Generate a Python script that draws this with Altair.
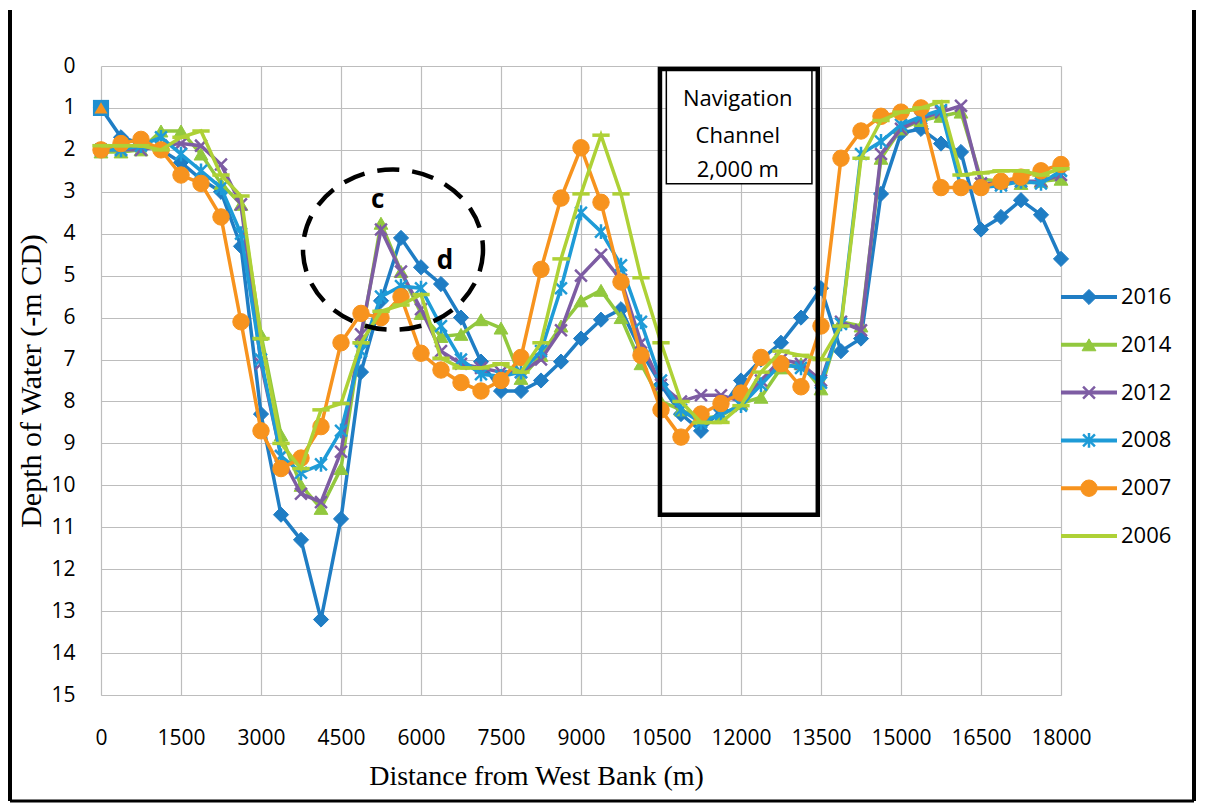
import altair as alt
import pandas as pd

# ---------------- data ----------------
distance = [0, 375, 750, 1125, 1500, 1875, 2250, 2625, 3000, 3375, 3750, 4125,
            4500, 4875, 5250, 5625, 6000, 6375, 6750, 7125, 7500, 7875, 8250,
            8625, 9000, 9375, 9750, 10125, 10500, 10875, 11250, 11625, 12000,
            12375, 12750, 13125, 13500, 13875, 14250, 14625, 15000, 15375,
            15750, 16125, 16500, 16875, 17250, 17625, 18000]

d2016 = [1.0, 1.7, 1.85, 2.0, 2.3, 2.7, 3.0, 4.3, 8.3, 10.7, 11.3, 13.2, 10.8,
         7.3, 5.6, 4.1, 4.8, 5.2, 6.0, 7.05, 7.75, 7.75, 7.5, 7.05, 6.5, 6.05,
         5.8, 6.8, 7.6, 8.3, 8.7, 8.2, 7.5, 7.0, 6.6, 6.0, 5.3, 6.8, 6.5, 3.05,
         1.6, 1.5, 1.85, 2.05, 3.9, 3.6, 3.2, 3.55, 4.6]
d2014 = [2.05, 2.05, 2.0, 1.55, 1.55, 2.1, 2.8, 3.3, 6.4, 8.8, 10.0, 10.55, 9.6,
         6.5, 3.75, 4.9, 5.9, 6.45, 6.4, 6.05, 6.25, 7.45, 6.9, 6.2, 5.6, 5.35,
         6.0, 7.1, 8.0, 8.2, 8.4, 8.35, 8.05, 7.9, 7.2, 7.1, 7.7, 6.1, 6.2, 2.2,
         1.5, 1.3, 1.2, 1.1, 2.7, 2.75, 2.8, 2.75, 2.7]
d2012 = [2.0, 2.0, 2.0, 1.9, 1.85, 1.9, 2.35, 3.3, 7.1, 9.3, 10.2, 10.4, 9.2,
         6.4, 3.9, 4.9, 5.8, 6.8, 7.1, 7.2, 7.3, 7.3, 7.0, 6.3, 5.0, 4.5, 5.1,
         6.6, 7.6, 8.0, 7.85, 7.85, 8.0, 7.5, 7.0, 7.1, 7.5, 6.1, 6.3, 2.1, 1.5,
         1.25, 1.1, 0.95, 2.8, 2.8, 2.75, 2.75, 2.6]
d2008 = [2.0, 2.0, 1.9, 1.7, 2.1, 2.5, 2.9, 4.0, 7.0, 9.3, 9.7, 9.5, 8.7, 6.8,
         5.5, 5.25, 5.3, 6.2, 7.0, 7.35, 7.4, 7.3, 6.8, 5.3, 3.5, 3.95, 4.75,
         6.1, 7.5, 8.2, 8.5, 8.3, 8.1, 7.6, 7.1, 7.2, 7.55, 6.15, 2.1, 1.8, 1.4,
         1.2, 1.05, 2.9, 2.9, 2.85, 2.75, 2.8, 2.5]
d2007 = [2.0, 1.85, 1.75, 2.0, 2.6, 2.8, 3.6, 6.1, 8.7, 9.6, 9.35, 8.6, 6.6,
         5.9, 6.0, 5.5, 6.85, 7.25, 7.55, 7.75, 7.5, 6.95, 4.85, 3.15, 1.95,
         3.25, 5.15, 6.9, 8.2, 8.85, 8.3, 8.05, 7.8, 6.95, 7.1, 7.65, 6.2, 2.2,
         1.55, 1.2, 1.1, 1.0, 2.9, 2.9, 2.9, 2.75, 2.65, 2.5, 2.35]
d2006 = [1.9, 1.9, 1.9, 2.0, 1.7, 1.55, 2.6, 3.1, 6.5, 9.0, 9.6, 8.2, 8.05,
         6.6, 5.85, 5.7, 5.45, 6.97, 7.2, 7.2, 7.1, 7.3, 6.6, 4.6, 3.05, 1.65,
         3.05, 5.05, 6.6, 8.0, 8.5, 8.5, 8.1, 7.3, 6.8, 6.9, 7.0, 6.2, 2.2,
         1.3, 1.1, 1.0, 0.85, 2.6, 2.55, 2.5, 2.5, 2.6, 2.45]

start_x = [0]
start_depth = [1.0]

years = ["2016", "2014", "2012", "2008", "2007", "2006"]
depths = [d2016, d2014, d2012, d2008, d2007, d2006]
colors = ["#1F7DC4", "#92C83E", "#7D5CA3", "#1E9BD7", "#F7931E", "#AED136"]

x_ticks = [0, 1500, 3000, 4500, 6000, 7500, 9000, 10500, 12000, 13500,
           15000, 16500, 18000]
y_ticks = [0, 1, 2, 3, 4, 5, 6, 7, 8, 9, 10, 11, 12, 13, 14, 15]

nav_lines = ["Navigation", "Channel", "2,000 m"]

# ---------------- styles ----------------
X_PATH = "M-1,-1L1,1M-1,1L1,-1"
AST_PATH = "M-1,-1L1,1M-1,1L1,-1M0,-1.25L0,1.25"
DASH_PATH = "M-1,0L1,0"
ELLIPSE = "M1,0A1,0.89 0 1,1 -1,0A1,0.89 0 1,1 1,0Z"

markers = {
    "2016": dict(shape="diamond", size=230, filled=True),
    "2014": dict(shape="triangle-up", size=190, filled=True),
    "2012": dict(shape=X_PATH, size=140, filled=False, sw=2.5),
    "2008": dict(shape=AST_PATH, size=140, filled=False, sw=2.5),
    "2007": dict(shape="circle", size=270, filled=True),
    "2006": dict(shape=DASH_PATH, size=300, filled=False, sw=3.5),
}

GRID = "#BDBDBD"

x_axis = alt.Axis(values=x_ticks, title="Distance from West Bank (m)",
                  titleFont="Liberation Serif", titleFontSize=28,
                  titleFontWeight="normal", titleColor="black",
                  titlePadding=14, titleX=435,
                  labelFont="Open Sans", labelFontSize=21, labelColor="black",
                  labelPadding=32, ticks=False, grid=True, gridColor=GRID,
                  gridWidth=1.2, domainColor=GRID, domainWidth=1.2,
                  labelFlush=False, labelOverlap=False, format="d")
y_axis = alt.Axis(values=y_ticks, title="Depth of Water (-m CD)",
                  titleFont="Liberation Serif", titleFontSize=30,
                  titleFontWeight="normal", titleColor="black",
                  titlePadding=4,
                  labelFont="Open Sans", labelFontSize=21, labelColor="black",
                  labelPadding=26, ticks=False, grid=True, gridColor=GRID,
                  gridWidth=1.2, domain=False, labelFlush=False,
                  labelOverlap=False)

X = alt.X("distance:Q", scale=alt.Scale(domain=[0, 18000], nice=False, zero=False),
          axis=x_axis)
Y = alt.Y("depth:Q", scale=alt.Scale(domain=[0, 15], nice=False, reverse=True),
          axis=y_axis)

layers = []
for yr, dep, col in zip(years, depths, colors):
    df = pd.DataFrame({"distance": distance, "depth": dep, "series": yr})
    layers.append(alt.Chart(df).mark_line(color=col, strokeWidth=3.5).encode(x=X, y=Y))
    m = markers[yr]
    if m["filled"]:
        pm = alt.Chart(df).mark_point(shape=m["shape"], size=m["size"], filled=True,
                                      fill=col, stroke=col, strokeWidth=1, opacity=1)
    else:
        pm = alt.Chart(df).mark_point(shape=m["shape"], size=m["size"], filled=False,
                                      stroke=col, strokeWidth=m["sw"], opacity=1)
    layers.append(pm.encode(x=X, y=Y))

start_df = pd.DataFrame({"distance": start_x, "depth": start_depth})
layers.append(alt.Chart(start_df).mark_point(shape="square", size=260, filled=True,
                                             color="#1F8FD0", opacity=1).encode(x=X, y=Y))
layers.append(alt.Chart(start_df).mark_point(shape="triangle-up", size=170, filled=True,
                                             color="#F7931E", opacity=1).encode(x=X, y=Y))

# navigation channel box
box_df = pd.DataFrame({"x0": [10480], "x1": [13440], "y0": [0.07], "y1": [10.7]})
inner_df = pd.DataFrame({"x0": [10600], "x1": [13330], "y0": [0.07], "y1": [2.81]})
layers.append(alt.Chart(inner_df).mark_rect(fill="white", stroke="black",
                                            strokeWidth=1.5).encode(
    x=alt.X("x0:Q"), x2="x1:Q", y=alt.Y("y0:Q"), y2="y1:Q"))
layers.append(alt.Chart(box_df).mark_rect(fill="white", fillOpacity=0, stroke="black",
                                          strokeWidth=4.5).encode(
    x=alt.X("x0:Q"), x2="x1:Q", y=alt.Y("y0:Q"), y2="y1:Q"))
nav_df = pd.DataFrame({"distance": [11940, 11940, 11940], "depth": [0.78, 1.66, 2.47],
                       "label": nav_lines})
layers.append(alt.Chart(nav_df).mark_text(font="Open Sans", fontSize=22, color="black",
                                          align="center", baseline="middle").encode(
    x=X, y=Y, text="label:N"))

# dashed circle and c / d labels
circ_df = pd.DataFrame({"distance": [5475], "depth": [4.38]})
layers.append(alt.Chart(circ_df).mark_point(shape=ELLIPSE, size=180 * 180, filled=False,
                                            stroke="black", strokeWidth=4.5,
                                            strokeDash=[22, 13], opacity=1).encode(x=X, y=Y))
cd_df = pd.DataFrame({"distance": [5190, 6450], "depth": [3.2, 4.65], "label": ["c", "d"]})
layers.append(alt.Chart(cd_df).mark_text(font="Open Sans", fontSize=26, fontWeight="bold",
                                         color="black", align="center",
                                         baseline="middle").encode(x=X, y=Y, text="label:N"))

# outer frame of the figure (left, right, bottom edges)
frame = pd.DataFrame({"k": [0]})
layers.append(alt.Chart(frame).mark_rule(color="black", strokeWidth=4).encode(
    x=alt.value(-91), y=alt.value(-56), y2=alt.value(735)))
layers.append(alt.Chart(frame).mark_rule(color="black", strokeWidth=4).encode(
    x=alt.value(1093), y=alt.value(-56), y2=alt.value(735)))
layers.append(alt.Chart(frame).mark_rule(color="black", strokeWidth=3).encode(
    x=alt.value(-91), x2=alt.value(1093), y=alt.value(735)))

main = alt.layer(*layers).properties(width=960, height=629)

# ---------------- legend ----------------
LY = alt.Y("series:N", scale=alt.Scale(type="point", domain=years, range=[231, 470],
                                       padding=0), axis=None)
leg_layers = []
for yr, col in zip(years, colors):
    ldf = pd.DataFrame({"series": [yr]})
    leg_layers.append(alt.Chart(ldf).mark_rule(color=col, strokeWidth=4).encode(
        x=alt.value(0), x2=alt.value(56), y=LY))
    if yr != "2006":
        m = markers[yr]
        if m["filled"]:
            lp = alt.Chart(ldf).mark_point(shape=m["shape"], size=m["size"], filled=True,
                                           fill=col, stroke=col, strokeWidth=1, opacity=1)
        else:
            lp = alt.Chart(ldf).mark_point(shape=m["shape"], size=m["size"], filled=False,
                                           stroke=col, strokeWidth=m["sw"], opacity=1)
        leg_layers.append(lp.encode(x=alt.value(28), y=LY))
    leg_layers.append(alt.Chart(ldf).mark_text(font="Open Sans", fontSize=22, color="black",
                                               align="left", baseline="middle").encode(
        x=alt.value(60), y=LY, text="series:N"))
legend = alt.layer(*leg_layers).properties(width=120, height=629)

chart = alt.hconcat(main, legend, spacing=0, bounds="flush").properties(
    padding={"left": 0, "top": 0, "right": 0, "bottom": 0},
    background="white",
).configure_view(strokeWidth=0)

chart.save("out.html", embed_options={"renderer": "svg", "actions": False})
